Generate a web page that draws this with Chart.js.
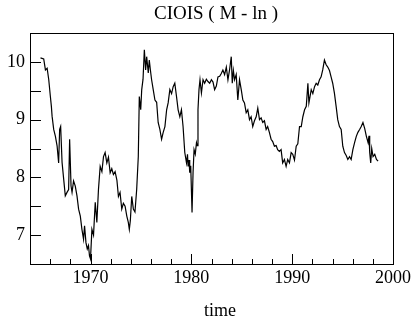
<!DOCTYPE html>
<html>
<head>
<meta charset="utf-8">
<script src="https://cdn.jsdelivr.net/npm/chart.js@4"></script>
<style>
  html, body { margin: 0; padding: 0; background: #fff; }
  #wrap { width: 414px; height: 324px; }
</style>
</head>
<body>
<div id="wrap"><canvas id="cioisChart"></canvas></div>
<script>
// =============================
// Data
// =============================

const chartTitle = 'CIOIS ( M - ln )';
const xLabel = 'time';

const years = [
    1965.04, 1965.36, 1965.53, 1965.70, 1965.86, 1966.02, 1966.12, 1966.19, 1966.35, 1966.52,
    1966.69, 1966.84, 1966.94, 1967.04, 1967.18, 1967.34, 1967.50, 1967.67, 1967.83, 1967.93,
    1968.07, 1968.17, 1968.32, 1968.49, 1968.66, 1968.82, 1968.99, 1969.15, 1969.31, 1969.41,
    1969.55, 1969.68, 1969.80, 1969.90, 1970.00, 1970.14, 1970.30, 1970.47, 1970.63, 1970.79,
    1970.96, 1971.13, 1971.29, 1971.45, 1971.62, 1971.78, 1971.95, 1972.11, 1972.27, 1972.44,
    1972.62, 1972.77, 1972.93, 1973.10, 1973.26, 1973.43, 1973.60, 1973.75, 1973.85, 1973.95,
    1974.09, 1974.25, 1974.41, 1974.58, 1974.74, 1974.84, 1974.98, 1975.08, 1975.21, 1975.34,
    1975.47, 1975.57, 1975.73, 1975.83, 1975.94, 1976.06, 1976.22, 1976.39, 1976.56, 1976.71,
    1976.88, 1977.05, 1977.21, 1977.38, 1977.55, 1977.70, 1977.87, 1978.04, 1978.20, 1978.36,
    1978.53, 1978.69, 1978.86, 1979.02, 1979.18, 1979.35, 1979.52, 1979.62, 1979.68, 1979.77,
    1979.84, 1979.94, 1980.07, 1980.17, 1980.27, 1980.39, 1980.51, 1980.58, 1980.66, 1980.76,
    1980.86, 1981.00, 1981.16, 1981.32, 1981.49, 1981.65, 1981.82, 1981.99, 1982.15, 1982.31,
    1982.48, 1982.64, 1982.81, 1982.97, 1983.13, 1983.30, 1983.47, 1983.63, 1983.79, 1983.96,
    1984.06, 1984.17, 1984.29, 1984.45, 1984.61, 1984.78, 1984.95, 1985.11, 1985.27, 1985.44,
    1985.60, 1985.77, 1985.93, 1986.09, 1986.26, 1986.43, 1986.59, 1986.76, 1986.92, 1987.08,
    1987.25, 1987.42, 1987.57, 1987.74, 1987.91, 1988.07, 1988.24, 1988.41, 1988.56, 1988.73,
    1988.90, 1989.06, 1989.23, 1989.40, 1989.56, 1989.73, 1989.90, 1990.06, 1990.23, 1990.40,
    1990.56, 1990.73, 1990.90, 1991.06, 1991.23, 1991.40, 1991.56, 1991.66, 1991.77, 1991.89,
    1992.05, 1992.22, 1992.38, 1992.54, 1992.71, 1992.87, 1993.03, 1993.20, 1993.37, 1993.53,
    1993.70, 1993.86, 1994.02, 1994.19, 1994.36, 1994.52, 1994.69, 1994.86, 1995.02, 1995.19,
    1995.36, 1995.52, 1995.69, 1995.85, 1996.02, 1996.19, 1996.36, 1996.52, 1996.69, 1996.85,
    1997.02, 1997.19, 1997.36, 1997.53, 1997.62, 1997.69, 1997.79, 1997.89, 1998.02, 1998.19,
    1998.36, 1998.52
];

const cioisValues = [
    10.07, 10.05, 9.86, 9.89, 9.69, 9.40, 9.23, 9.06, 8.83, 8.71,
    8.54, 8.25, 8.83, 8.88, 8.26, 7.97, 7.68, 7.74, 7.79, 8.66,
    7.85, 7.74, 7.94, 7.85, 7.68, 7.45, 7.33, 7.10, 6.93, 7.16,
    6.87, 6.76, 6.82, 6.64, 6.59, 7.10, 7.00, 7.57, 7.22, 7.79,
    8.19, 8.10, 8.36, 8.43, 8.25, 8.35, 8.08, 8.15, 8.05, 8.10,
    7.95, 7.67, 7.74, 7.45, 7.55, 7.50, 7.33, 7.22, 7.10, 7.25,
    7.67, 7.45, 7.40, 7.79, 8.36, 9.40, 9.17, 9.52, 9.70, 10.21,
    9.86, 10.09, 9.81, 10.03, 9.86, 9.69, 9.52, 9.34, 9.30, 8.95,
    8.83, 8.66, 8.78, 8.88, 9.17, 9.29, 9.52, 9.45, 9.57, 9.63,
    9.40, 9.17, 9.05, 9.17, 8.88, 8.43, 8.25, 8.40, 8.19, 8.30,
    8.08, 8.20, 7.39, 8.08, 8.48, 8.40, 8.60, 8.55, 9.17, 9.52,
    9.69, 9.46, 9.69, 9.63, 9.70, 9.66, 9.63, 9.69, 9.65, 9.52,
    9.58, 9.74, 9.75, 9.80, 9.86, 9.78, 9.91, 9.69, 9.86, 10.09,
    9.63, 9.85, 9.69, 9.78, 9.34, 9.69, 9.52, 9.34, 9.29, 9.12,
    9.17, 9.00, 9.05, 8.88, 8.98, 9.05, 9.20, 9.00, 9.03, 8.95,
    8.98, 8.83, 8.88, 8.78, 8.66, 8.62, 8.54, 8.55, 8.48, 8.45,
    8.48, 8.25, 8.31, 8.19, 8.31, 8.25, 8.43, 8.40, 8.30, 8.54,
    8.58, 8.88, 8.88, 9.05, 9.17, 9.23, 9.63, 9.29, 9.40, 9.52,
    9.45, 9.57, 9.63, 9.60, 9.69, 9.74, 9.86, 10.03, 9.95, 9.91,
    9.85, 9.74, 9.63, 9.46, 9.23, 9.00, 8.88, 8.83, 8.54, 8.43,
    8.38, 8.31, 8.36, 8.31, 8.48, 8.60, 8.71, 8.78, 8.83, 8.88,
    8.95, 8.85, 8.71, 8.60, 8.72, 8.43, 8.25, 8.50, 8.36, 8.40,
    8.31, 8.28
];

const xRange = [1964, 2000];
const yRange = [6.5, 10.5];
const xTickLabels = [1970, 1980, 1990, 2000];
const yTickLabels = [7, 8, 9, 10];
const xMinorTicks = [1966, 1968, 1970, 1972, 1974, 1976, 1978, 1980, 1982, 1984, 1986, 1988, 1990, 1992, 1994, 1996, 1998];
const yMinorTicks = [7, 7.5, 8, 8.5, 9, 9.5, 10];


// =============================
// Frame, inward ticks and texts
// =============================

const serif = "'Liberation Serif', 'DejaVu Serif', serif";

const framePlugin = {
    id: 'frame',
    afterDraw(chart) {
        const ctx = chart.ctx;
        const area = chart.chartArea;
        const xs = chart.scales.x;
        const ys = chart.scales.y;

        ctx.save();
        ctx.strokeStyle = '#000';
        ctx.lineWidth = 1;
        ctx.strokeRect(Math.round(area.left) + 0.5, Math.round(area.top) + 0.5,
            Math.round(area.right - area.left), Math.round(area.bottom - area.top));

        ctx.beginPath();
        xMinorTicks.forEach(v => {
            const px = Math.round(xs.getPixelForValue(v)) + 0.5;
            const len = (v % 10 === 0) ? 10 : 5;
            ctx.moveTo(px, area.bottom);
            ctx.lineTo(px, area.bottom - len);
        });
        yMinorTicks.forEach(v => {
            const py = Math.round(ys.getPixelForValue(v)) + 0.5;
            ctx.moveTo(area.left, py);
            ctx.lineTo(area.left + 11, py);
        });
        ctx.stroke();

        // title and axis label
        ctx.fillStyle = '#000';
        ctx.textAlign = 'center';
        ctx.textBaseline = 'alphabetic';
        ctx.font = '19px ' + serif;
        ctx.fillText(chartTitle, 216, 18.5);
        ctx.font = '18px ' + serif;
        ctx.fillText(xLabel, 220, 316);
        ctx.restore();
    }
};


// =============================
// Chart
// =============================

const points = years.map((y, i) => ({ x: y, y: cioisValues[i] }));

new Chart(document.getElementById('cioisChart'), {
    type: 'line',
    data: {
        datasets: [{
            label: chartTitle,
            data: points,
            borderColor: '#000',
            borderWidth: 1.2,
            pointRadius: 0,
            tension: 0,
            fill: false
        }]
    },
    options: {
        responsive: true,
        maintainAspectRatio: false,
        animation: false,
        layout: {
            padding: { top: 33, right: 20, left: 0, bottom: 0 }
        },
        plugins: {
            legend: { display: false },
            title: { display: false },
            tooltip: { enabled: false }
        },
        scales: {
            x: {
                type: 'linear',
                min: xRange[0],
                max: xRange[1],
                afterBuildTicks: s => { s.ticks = xTickLabels.map(v => ({ value: v })); },
                afterFit: s => { s.height = 60; },
                grid: { display: false, drawTicks: false },
                border: { display: false },
                ticks: {
                    color: '#000',
                    padding: 3,
                    maxRotation: 0,
                    font: { family: serif, size: 18 },
                    callback: v => String(v)
                }
            },
            y: {
                min: yRange[0],
                max: yRange[1],
                afterBuildTicks: s => { s.ticks = yTickLabels.map(v => ({ value: v })); },
                afterFit: s => { s.width = 30; },
                grid: { display: false, drawTicks: false },
                border: { display: false },
                ticks: {
                    color: '#000',
                    padding: 5,
                    font: { family: serif, size: 18 },
                    callback: v => String(v)
                }
            }
        }
    },
    plugins: [framePlugin]
});
</script>
</body>
</html>
